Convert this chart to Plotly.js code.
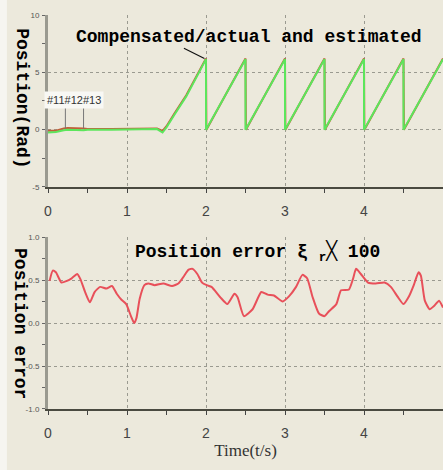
<!DOCTYPE html>
<html>
<head>
<meta charset="utf-8">
<script src="https://cdn.plot.ly/plotly-3.0.1.min.js"></script>
<style>html,body{margin:0;padding:0;background:#ECE9DC;}</style>
</head>
<body>
<div id="chart" style="width:443px;height:470px;"></div>
<script>
// ---- data ----
var posTime   = [0, 0.1, 0.2, 0.25, 0.45, 0.5, 0.8, 1.2, 1.38, 1.45, 1.5, 1.6, 1.75, 2.0, 2.005, 2.5, 2.505, 3.0, 3.005, 3.5, 3.505, 4.0, 4.005, 4.5, 4.505, 5.0];
var actualPos = [-0.1, -0.1, 0.1, 0.15, 0.1, 0.05, 0.05, 0.1, 0.1, -0.1, 0.3, 1.4, 3.0, 6.2, 0, 6.2, 0, 6.2, 0, 6.2, 0, 6.2, 0, 6.2, 0, 6.2];
var estTime   = [0, 0.1, 0.2, 0.25, 0.45, 0.5, 0.8, 1.2, 1.38, 1.45, 1.5, 1.6, 1.75, 2.0, 2.0, 2.5, 2.5, 3.0, 3.0, 3.5, 3.5, 4.0, 4.0, 4.5, 4.5, 5.0];
var estPos    = [-0.25, -0.2, -0.05, 0, -0.05, 0, 0, 0.05, 0.05, -0.25, 0.2, 1.3, 2.9, 6.15, 0, 6.15, 0, 6.15, 0, 6.15, 0, 6.15, 0, 6.15, 0, 6.15];

var errTime = [0.02,0.06,0.10,0.17,0.24,0.30,0.37,0.41,0.47,0.53,0.59,0.66,0.74,0.81,0.87,0.93,0.99,1.05,1.09,1.12,1.16,1.22,1.27,1.35,1.46,1.57,1.65,1.71,1.78,1.83,1.89,1.95,2.01,2.07,2.18,2.27,2.36,2.40,2.48,2.59,2.70,2.78,2.86,2.97,3.05,3.14,3.22,3.28,3.35,3.43,3.50,3.56,3.65,3.71,3.81,3.86,3.90,3.96,4.05,4.15,4.26,4.34,4.43,4.50,4.57,4.63,4.69,4.72,4.77,4.83,4.89,4.95,5.0];
var errVal  = [0.49,0.61,0.59,0.47,0.49,0.52,0.57,0.51,0.36,0.24,0.36,0.42,0.40,0.43,0.34,0.27,0.22,0.08,0.00,0.06,0.28,0.44,0.46,0.44,0.46,0.43,0.46,0.53,0.62,0.63,0.57,0.47,0.44,0.42,0.30,0.22,0.34,0.30,0.08,0.16,0.36,0.33,0.32,0.25,0.31,0.42,0.56,0.52,0.30,0.11,0.08,0.14,0.22,0.38,0.39,0.51,0.63,0.57,0.47,0.46,0.47,0.42,0.30,0.22,0.31,0.44,0.59,0.55,0.26,0.16,0.20,0.26,0.18];

var xTicks = [0, 1, 2, 3, 4, 5];
var yTopTicks = [-5, 0, 5, 10];
var yTopLabels = ['-5', '0', '5', '10'];
var yBotTicks = [-1, -0.5, 0, 0.5, 1];
var yBotLabels = ['-1.0', '-0.5', '0.0', '0.5', '1.0'];

var traces = [
  {x: posTime, y: actualPos, mode: 'lines', line: {color: '#c0603a', width: 2}, xaxis: 'x', yaxis: 'y', hoverinfo: 'skip'},
  {x: estTime, y: estPos, mode: 'lines', line: {color: '#5ce65c', width: 2}, xaxis: 'x', yaxis: 'y', hoverinfo: 'skip'},
  {x: errTime, y: errVal, mode: 'lines', line: {color: '#e8505a', width: 2, shape: 'spline', smoothing: 0.5}, xaxis: 'x2', yaxis: 'y2', hoverinfo: 'skip'}
];

var tickFont = {family: 'Liberation Sans Narrow, Liberation Sans, sans-serif', size: 14, color: '#444'};
var yTickFont = {family: 'Liberation Sans Narrow, Liberation Sans, sans-serif', size: 8, color: '#555'};

function xAxis(anchor, title) {
  var a = {
    anchor: anchor, domain: [0, 1], range: [0, 5],
    tickvals: xTicks, ticktext: xTicks.map(String),
    ticks: 'outside', ticklen: 4, tickcolor: '#444', tickwidth: 1,
    minor: {dtick: 0.5, tick0: 0, ticks: 'outside', ticklen: 4, tickcolor: '#444', showgrid: false},
    ticklabelstandoff: 6,
    showline: true, linecolor: '#4a4a40', linewidth: 2,
    showgrid: true, gridcolor: '#9a9a90', griddash: 'dot', gridwidth: 1,
    zeroline: false, tickfont: tickFont, fixedrange: true
  };
  if (title) a.title = {text: title, font: {family: 'Liberation Serif, serif', size: 17, color: '#333'}, standoff: 4};
  return a;
}
function yAxis(anchor, domain, range, tv, tt, minorStep) {
  return {
    anchor: anchor, domain: domain, range: range,
    tickvals: tv, ticktext: tt,
    ticks: 'outside', ticklen: 3, tickcolor: '#666',
    minor: {dtick: minorStep, ticks: 'outside', ticklen: 3, tickcolor: '#666', showgrid: false},
    showline: true, linecolor: '#9a9a90', linewidth: 3,
    showgrid: true, gridcolor: '#9a9a90', griddash: 'dot', gridwidth: 1,
    zeroline: false, tickfont: yTickFont, ticklabelstandoff: 1, fixedrange: true
  };
}

var monoFont = {family: 'Liberation Mono, Courier New, monospace', size: 18, color: '#000', weight: 'bold'};

var layout = {
  width: 443, height: 470,
  margin: {l: 48, r: 0, t: 15, b: 61},
  paper_bgcolor: '#ECE9DC', plot_bgcolor: '#ECE9DC',
  showlegend: false,
  xaxis: xAxis('y', null),
  yaxis: yAxis('x', [0.5635, 1], [-5, 10], yTopTicks, yTopLabels, 2.5),
  xaxis2: xAxis('y2', 'Time(t/s)'),
  yaxis2: yAxis('x2', [0, 0.4365], [-1, 1], yBotTicks, yBotLabels, 0.25),
  annotations: [
    {text: 'Position(Rad)', xref: 'paper', yref: 'paper', x: -0.066, y: 0.789, xanchor: 'center', yanchor: 'middle', textangle: 90, showarrow: false, font: monoFont},
    {text: 'Position error', xref: 'paper', yref: 'paper', x: -0.071, y: 0.2157, xanchor: 'center', yanchor: 'middle', textangle: 90, showarrow: false, font: monoFont},
    {text: 'Compensated/actual and estimated', xref: 'paper', yref: 'paper', x: 0.509, y: 0.944, xanchor: 'center', yanchor: 'middle', showarrow: false, font: monoFont},
    {text: 'Position error ξ <sub>r</sub>╳ 100', xref: 'paper', yref: 'paper', x: 0.215, xanchor: 'left', y: 0.396, yanchor: 'middle', showarrow: false, font: monoFont},
    {text: '', xref: 'x', yref: 'y', x: 1.98, y: 6.2, ax: -22, ay: -11, showarrow: true, arrowhead: 0, arrowwidth: 1.2, arrowcolor: '#111'},
    {text: '#11#12#13', xref: 'x', yref: 'y', x: 0.33, y: 2.6, showarrow: false, bgcolor: '#f8f8f4', borderpad: 2,
     font: {family: 'Liberation Sans Narrow, Liberation Sans, sans-serif', size: 11, color: '#333'}}
  ],
  shapes: [
    {type: 'line', xref: 'x', yref: 'y', x0: 0.22, x1: 0.22, y0: 1.9, y1: 0.1, line: {color: '#777', width: 1}},
    {type: 'line', xref: 'x', yref: 'y', x0: 0.45, x1: 0.45, y0: 1.9, y1: 0.1, line: {color: '#777', width: 1}},
    {type: 'rect', xref: 'paper', yref: 'paper', x0: -0.1215, x1: -0.104, y0: -0.16, y1: 1.04, fillcolor: '#f6f5f0', line: {width: 0}, layer: 'below'}
  ]
};

Plotly.newPlot('chart', traces, layout, {displayModeBar: false, staticPlot: true});
</script>
</body>
</html>
